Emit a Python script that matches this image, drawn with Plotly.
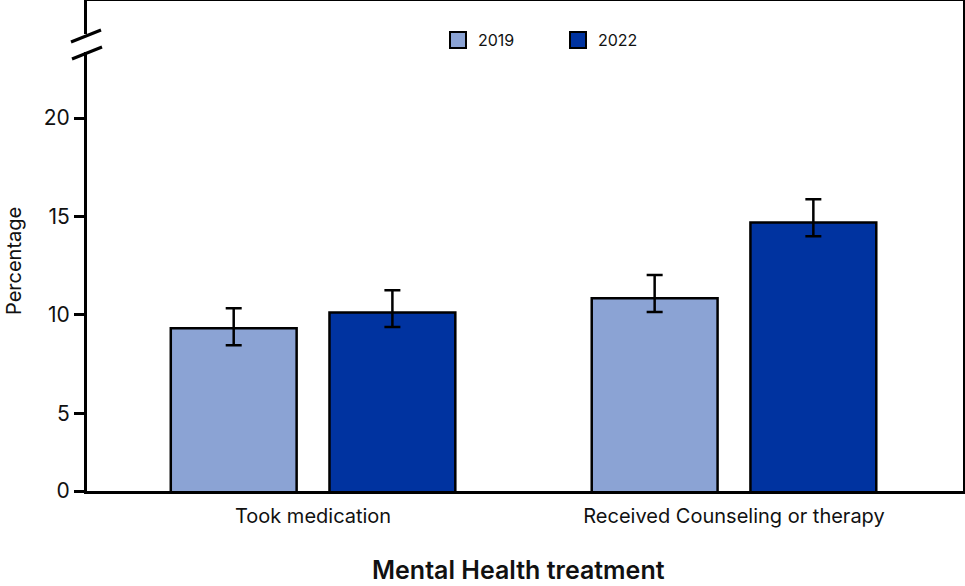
import plotly.graph_objects as go

categories = ["Took medication", "Received Counseling or therapy"]
years = ["2019", "2022"]
values_2019 = [9.32, 10.85]
upper_2019 = [10.34, 12.02]
lower_2019 = [8.46, 10.14]
values_2022 = [10.12, 14.69]
upper_2022 = [11.25, 15.87]
lower_2022 = [9.38, 14.00]
y_tick_labels = ["0", "5", "10", "15", "20"]

colors = {"2019": "#8BA3D4", "2022": "#0033A0"}
FONT = "Inter"

Y_MIN, Y_MAX = 1.05, 25.95
y_tick_vals = [Y_MIN, 5, 10, 15, 20]

W, H = 965, 586
L, R, T, B = 87, 2, 1, 95
PW, PH = W - L - R, H - T - B


def px(x):
    return (x - L) / PW


def py(y):
    return 1 - (y - T) / PH


fig = go.Figure()
series = [
    ("2019", values_2019, upper_2019, lower_2019),
    ("2022", values_2022, upper_2022, lower_2022),
]
for name, vals, up, lo in series:
    fig.add_trace(go.Bar(
        x=categories, y=vals, name=name, showlegend=False,
        marker=dict(color=colors[name], line=dict(color="black", width=2.5)),
        error_y=dict(type="data", symmetric=False,
                     array=[u - v for u, v in zip(up, vals)],
                     arrayminus=[v - l for v, l in zip(vals, lo)],
                     color="black", thickness=2.5, width=8),
    ))
    fig.add_trace(go.Scatter(
        x=[None], y=[None], mode="markers", name=name,
        marker=dict(symbol="square", size=18, color=colors[name],
                    line=dict(color="black", width=2)),
    ))

shapes = [
    # axis break: gap in the y axis line plus two slashes
    dict(type="rect", xref="paper", yref="paper", x0=px(80), x1=px(95),
         y0=py(52), y1=py(34), fillcolor="white", line=dict(width=0), layer="above"),
    dict(type="line", xref="paper", yref="paper", x0=px(71), y0=py(42),
         x1=px(101), y1=py(30), line=dict(color="black", width=3), layer="above"),
    dict(type="line", xref="paper", yref="paper", x0=px(72), y0=py(59),
         x1=px(102), y1=py(47), line=dict(color="black", width=3), layer="above"),
]

fig.update_layout(
    width=W, height=H, autosize=False,
    margin=dict(l=L, r=R, t=T, b=B, autoexpand=False),
    paper_bgcolor="white", plot_bgcolor="white",
    barmode="group", bargap=0.246, bargroupgap=0.207,
    font=dict(family=FONT, color="#111"),
    legend=dict(orientation="h", x=px(438), xanchor="left", y=py(40), yanchor="middle",
                entrywidth=75, font=dict(size=16, family=FONT), bgcolor="rgba(0,0,0,0)"),
    shapes=shapes,
    annotations=[
        dict(text="Percentage", xref="paper", yref="paper", x=px(14), y=py(261),
             xanchor="center", yanchor="middle",
             textangle=-90, showarrow=False, font=dict(size=20, family=FONT)),
        dict(text="Mental Health treatment", xref="paper", yref="paper", x=px(518), y=py(570),
             xanchor="center", yanchor="middle",
             showarrow=False, font=dict(size=25, family=FONT, weight=600)),
    ],
)
fig.update_xaxes(range=[-0.537, 1.544], showline=True, mirror=True, linecolor="black",
                 linewidth=3, ticks="", tickfont=dict(size=20, family=FONT),
                 ticklabelstandoff=5, showgrid=False, automargin=False)
fig.update_yaxes(range=[Y_MIN, Y_MAX], tickvals=y_tick_vals, ticktext=y_tick_labels,
                 showline=True, mirror=True, linecolor="black", linewidth=3,
                 ticks="outside", ticklen=10, tickwidth=2.5, tickcolor="black",
                 tickfont=dict(size=21, family=FONT), showgrid=False, zeroline=False,
                 automargin=False)

fig.write_html("out.html", config={"displayModeBar": False},
               post_script="document.body.style.margin='0';document.body.style.overflow='hidden';")
